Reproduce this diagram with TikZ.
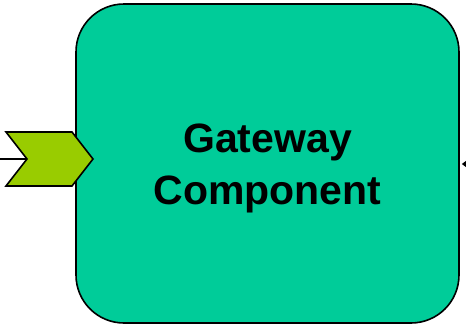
\documentclass[tikz,border=0pt]{standalone}
\usepackage{fontspec}
\setmainfont{Liberation Sans}
\usetikzlibrary{positioning, calc}
\usetikzlibrary{arrows.meta}
\definecolor{gwgreen}{RGB}{0,204,153}
\definecolor{portgreen}{RGB}{153,204,0}
\tikzset{
  gwbox/.style = {draw, line width=1.6pt, fill=gwgreen, rounded corners=48pt,
                  minimum width=383pt, minimum height=319pt, inner sep=0pt},
  gwtext/.style = {align=center, inner sep=0pt, font=\bfseries\fontsize{41}{52}\selectfont},
  portin/.style = {draw, line width=1.6pt, fill=portgreen, line join=miter}
}
\begin{document}
\begin{tikzpicture}[x=1pt, y=-1pt]
                \useasboundingbox (0,0) rectangle (466,327);
                \node[gwbox] (gw) at (267.5,163.5) {};
                \node[gwtext] (gwlabel) at ($(gw.center)+(0,5)$) {Gateway\\Component};
                \draw[portin] (6,132) -- (72,132) -- (93,159) -- (72,186) -- (6,186) -- (27,159) coordinate (notch) -- cycle;
                \coordinate (lin) at (0,159);
                \coordinate (rin) at (466,164);
                \draw[line width=1.8pt] (lin) -- (notch);
                \draw[line width=1.4pt, -{Triangle[length=5pt,width=7pt]}] (rin) -- ($(gw.east)+(2,0.5)$);
            \end{tikzpicture}
\end{document}
